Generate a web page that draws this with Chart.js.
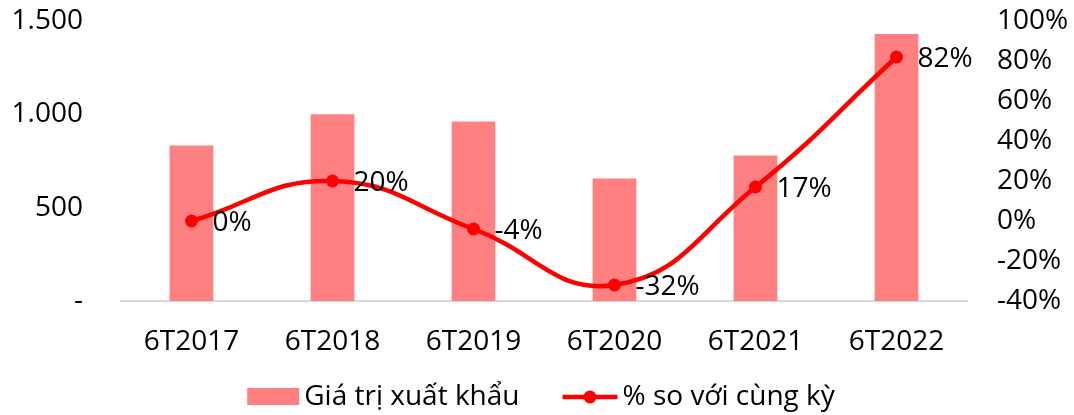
<!DOCTYPE html>
<html lang="vi">
<head>
<meta charset="utf-8">
<title>Giá trị xuất khẩu</title>
<script src="https://cdn.jsdelivr.net/npm/chart.js@4"></script>
<style>
  html, body { margin: 0; padding: 0; background: #fff; }
  #wrap { width: 1074px; height: 415px; }
</style>
</head>
<body>
<div id="wrap"><canvas id="exportChart" width="1074" height="415"></canvas></div>
<script>
// Dữ liệu biểu đồ
const categories = ['6T2017', '6T2018', '6T2019', '6T2020', '6T2021', '6T2022'];
const exportValues = [833, 1000, 962, 656, 780, 1430];
const growthPct = [0, 20, -4, -32, 17, 82];
const leftTicks = [0, 500, 1000, 1500];
const rightTicks = [-40, -20, 0, 20, 40, 60, 80, 100];

const barLabel = 'Giá trị xuất khẩu';
const lineLabel = '% so với cùng kỳ';

const BAR_COLOR = '#ff8080';
const LINE_COLOR = '#ff0000';
const FONT = '"Open Sans", "Noto Sans", sans-serif';
const FONT_SIZE = 28;

// Định dạng số kiểu Việt Nam: 1.500, 0 → "-"
function formatLeft(v) {
  if (v === 0) return '-';
  return String(v).replace(/\B(?=(\d{3})+(?!\d))/g, '.');
}

// Nhãn dữ liệu bên phải mỗi điểm của đường
const pointLabels = {
  id: 'pointLabels',
  afterDatasetsDraw(chart) {
    const ctx = chart.ctx;
    const meta = chart.getDatasetMeta(1);
    ctx.save();
    ctx.font = FONT_SIZE + 'px ' + FONT;
    ctx.fillStyle = '#000';
    ctx.textAlign = 'left';
    ctx.textBaseline = 'middle';
    meta.data.forEach((pt, i) => {
      ctx.fillText(growthPct[i] + '%', pt.x + 21, pt.y + 2);
    });
    ctx.restore();
  }
};

// Chú giải vẽ tay ở dưới cùng
const bottomLegend = {
  id: 'bottomLegend',
  afterDraw(chart) {
    const ctx = chart.ctx;
    ctx.save();
    ctx.font = FONT_SIZE + 'px ' + FONT;
    ctx.textBaseline = 'middle';
    ctx.textAlign = 'left';
    const w1 = ctx.measureText(barLabel).width;
    const w2 = ctx.measureText(lineLabel).width;
    const boxW = 52, lineW = 55, gap = 5, between = 43;
    const total = boxW + gap + w1 + between + lineW + gap + w2;
    let x = (chart.width - total) / 2 + 4;
    const y = 397;

    ctx.fillStyle = BAR_COLOR;
    ctx.fillRect(x, y - 9, boxW, 17);
    x += boxW + gap;
    ctx.fillStyle = '#000';
    ctx.fillText(barLabel, x, y);
    x += w1 + between;

    ctx.strokeStyle = LINE_COLOR;
    ctx.lineWidth = 4.5;
    ctx.beginPath();
    ctx.moveTo(x, y);
    ctx.lineTo(x + lineW, y);
    ctx.stroke();
    ctx.fillStyle = LINE_COLOR;
    ctx.beginPath();
    ctx.arc(x + lineW / 2, y, 6.5, 0, Math.PI * 2);
    ctx.fill();
    x += lineW + gap;
    ctx.fillStyle = '#000';
    ctx.fillText(lineLabel, x, y);
    ctx.restore();
  }
};

function renderChart() {
  const ctx = document.getElementById('exportChart').getContext('2d');
  Chart.defaults.font.family = FONT;
  Chart.defaults.font.size = FONT_SIZE;
  Chart.defaults.color = '#000';

  new Chart(ctx, {
    data: {
      labels: categories,
      datasets: [
        {
          type: 'bar',
          label: barLabel,
          data: exportValues,
          backgroundColor: BAR_COLOR,
          borderWidth: 0,
          barPercentage: 0.62,
          categoryPercentage: 0.5,
          yAxisID: 'y',
          order: 2
        },
        {
          type: 'line',
          label: lineLabel,
          data: growthPct,
          borderColor: LINE_COLOR,
          backgroundColor: LINE_COLOR,
          borderWidth: 4.5,
          tension: 0.45,
          pointRadius: 6.5,
          pointBackgroundColor: LINE_COLOR,
          pointBorderWidth: 0,
          yAxisID: 'y1',
          order: 1
        }
      ]
    },
    options: {
      responsive: false,
      animation: false,
      layout: { padding: { top: 21, bottom: 0, left: 0, right: 0 } },
      plugins: {
        legend: { display: false },
        tooltip: { enabled: false }
      },
      scales: {
        x: {
          grid: { display: false, drawTicks: false },
          border: { color: '#d9d9d9', width: 2 },
          ticks: { padding: 24, maxRotation: 0 },
          afterFit: (scale) => { scale.height = 114; }
        },
        y: {
          position: 'left',
          min: 0,
          max: 1500,
          afterBuildTicks: (scale) => { scale.ticks = leftTicks.map(v => ({ value: v })); },
          // khoảng cách nhãn lấy từ tickLength để không đẩy vùng vẽ xuống
          grid: { display: false, drawTicks: true, tickLength: 38 },
          border: { display: false },
          ticks: { padding: 0, autoSkip: false, callback: (v) => formatLeft(v) },
          afterFit: (scale) => { scale.width = 121; }
        },
        y1: {
          position: 'right',
          min: -40,
          max: 100,
          afterBuildTicks: (scale) => { scale.ticks = rightTicks.map(v => ({ value: v })); },
          grid: { display: false, drawTicks: true, tickLength: 30 },
          border: { display: false },
          ticks: { padding: 0, autoSkip: false, callback: (v) => v + '%' },
          afterFit: (scale) => { scale.width = 107; }
        }
      }
    },
    plugins: [pointLabels, bottomLegend]
  });
}

document.addEventListener('DOMContentLoaded', renderChart);
</script>
</body>
</html>
